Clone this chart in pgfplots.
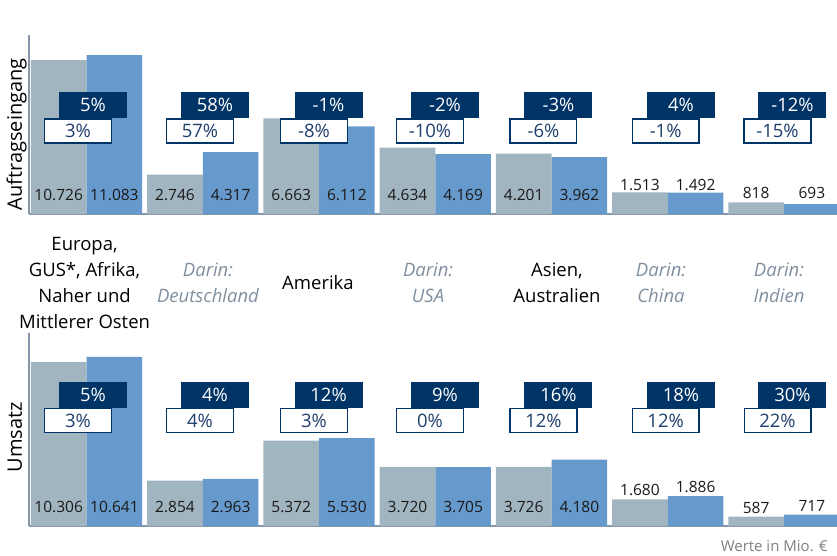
\documentclass[border=0pt]{standalone}
\usepackage{pgfplots}
\pgfplotsset{compat=1.18}
\usepackage{fontspec}
\setmainfont{Open Sans}
\definecolor{bargrey}{HTML}{A1B5C0}
\definecolor{barblue}{HTML}{6699CC}
\definecolor{navy}{HTML}{003366}
\definecolor{boxtext}{HTML}{1F3F6E}
\definecolor{axisgrey}{HTML}{8796A8}
\definecolor{darin}{HTML}{7F8FA0}
\definecolor{numtext}{HTML}{1A1A1A}
\newcommand\darin{\itshape\color{darin}}
\pgfplotsset{
  panel/.style={
    scale only axis, width=808pt,
    xmin=-0.495, xmax=6.456, ymin=0,
    axis x line*=bottom, axis y line*=left,
    axis line style={-, draw=axisgrey, line width=1.5pt},
    ytick=\empty,
    major tick length=0pt,
    clip=false,
    ylabel style={at={(axis description cs:-0.0087,0.5)}, anchor=base, font=\fontsize{20}{24}\selectfont},
  },
  greybar/.style={ybar, bar width=0.479, bar shift=-0.2395, fill=bargrey, draw=none},
  bluebar/.style={ybar, bar width=0.479, bar shift=0.2395, fill=barblue, draw=none},
}
\tikzset{
  num/.style={font=\fontsize{15.5}{18}\selectfont, text=numtext, inner sep=0pt, anchor=center},
  pdark/.style={fill=navy, text=white, minimum width=68pt, minimum height=26pt, inner sep=0pt, font=\fontsize{18.5}{20}\selectfont, anchor=center},
  pwhite/.style={fill=white, draw=navy, line width=1.2pt, text=boxtext, minimum width=66.8pt, minimum height=24pt, inner sep=0pt, font=\fontsize{18.5}{20}\selectfont, anchor=center},
}
\begin{document}
\begin{tikzpicture}
\useasboundingbox (0,0) rectangle (837pt,555pt);
% ---------- Auftragseingang ----------
\begin{axis}[panel, at={(29pt,341pt)}, anchor=south west, height=179pt, ymax=12480,
  ylabel={Auftragseingang},
  ylabel style={at={(axis description cs:-0.0087,0.445)}},
  xtick={-0.017,1.045,1.991,2.938,4.047,4.942,5.957},
  xticklabels={{Europa,\\GUS*, Afrika,\\Naher und\\Mittlerer Osten},
    {{\darin Darin:}\\{\darin Deutschland}},
    {Amerika},
    {{\darin Darin:}\\{\darin USA}},
    {Asien,\\Australien},
    {{\darin Darin:}\\{\darin China}},
    {{\darin Darin:}\\{\darin Indien}}},
  xticklabel style={anchor=center, yshift=-69pt, align=center, font=\fontsize{18.5}{26}\selectfont},
]
\addplot[greybar] coordinates {(0,10726) (1,2746) (2,6663) (3,4634) (4,4201) (5,1513) (6,818)};
\addplot[bluebar] coordinates {(0,11083) (1,4317) (2,6112) (3,4169) (4,3962) (5,1492) (6,693)};
\node[num] at (axis cs:-0.2395,1325) {10.726};
\node[num] at (axis cs:0.2395,1325) {11.083};
\node[num] at (axis cs:0.7605,1325) {2.746};
\node[num] at (axis cs:1.2395,1325) {4.317};
\node[num] at (axis cs:1.7605,1325) {6.663};
\node[num] at (axis cs:2.2395,1325) {6.112};
\node[num] at (axis cs:2.7605,1325) {4.634};
\node[num] at (axis cs:3.2395,1325) {4.169};
\node[num] at (axis cs:3.7605,1325) {4.201};
\node[num] at (axis cs:4.2395,1325) {3.962};
\node[num] at (axis cs:4.7605,2022) {1.513};
\node[num] at (axis cs:5.2395,2022) {1.492};
\node[num] at (axis cs:5.7605,1450) {818};
\node[num] at (axis cs:6.2395,1450) {693};
% percentage boxes
\node[pwhite] at (axis cs:-0.073,5788) {3\%};
\node[pwhite] at (axis cs:0.976,5788) {57\%};
\node[pwhite] at (axis cs:1.957,5788) {-8\%};
\node[pwhite] at (axis cs:2.955,5788) {-10\%};
\node[pwhite] at (axis cs:3.931,5788) {-6\%};
\node[pwhite] at (axis cs:4.982,5788) {-1\%};
\node[pwhite] at (axis cs:5.944,5788) {-15\%};
\node[pdark] at (axis cs:0.056,7601) {5\%};
\node[pdark] at (axis cs:1.105,7601) {58\%};
\node[pdark] at (axis cs:2.082,7601) {-1\%};
\node[pdark] at (axis cs:3.084,7601) {-2\%};
\node[pdark] at (axis cs:4.060,7601) {-3\%};
\node[pdark] at (axis cs:5.114,7601) {4\%};
\node[pdark] at (axis cs:6.073,7601) {-12\%};
\end{axis}
% ---------- Umsatz ----------
\begin{axis}[panel, at={(29pt,29pt)}, anchor=south west, height=193pt, ymax=12140,
  ylabel={Umsatz},
  ylabel style={at={(axis description cs:-0.0087,0.46)}},
  xtick=\empty,
]
\addplot[greybar] coordinates {(0,10306) (1,2854) (2,5372) (3,3720) (4,3726) (5,1680) (6,587)};
\addplot[bluebar] coordinates {(0,10641) (1,2963) (2,5530) (3,3705) (4,4180) (5,1886) (6,717)};
\node[num] at (axis cs:-0.2395,1214) {10.306};
\node[num] at (axis cs:0.2395,1214) {10.641};
\node[num] at (axis cs:0.7605,1214) {2.854};
\node[num] at (axis cs:1.2395,1214) {2.963};
\node[num] at (axis cs:1.7605,1214) {5.372};
\node[num] at (axis cs:2.2395,1214) {5.530};
\node[num] at (axis cs:2.7605,1214) {3.720};
\node[num] at (axis cs:3.2395,1214) {3.705};
\node[num] at (axis cs:3.7605,1214) {3.726};
\node[num] at (axis cs:4.2395,1214) {4.180};
\node[num] at (axis cs:4.7605,2264) {1.680};
\node[num] at (axis cs:5.2395,2472) {1.886};
\node[num] at (axis cs:5.7605,1132) {587};
\node[num] at (axis cs:6.2395,1277) {717};
\node[pwhite] at (axis cs:-0.073,6635) {3\%};
\node[pwhite] at (axis cs:0.976,6635) {4\%};
\node[pwhite] at (axis cs:1.957,6635) {3\%};
\node[pwhite] at (axis cs:2.955,6635) {0\%};
\node[pwhite] at (axis cs:3.931,6635) {12\%};
\node[pwhite] at (axis cs:4.982,6635) {12\%};
\node[pwhite] at (axis cs:5.944,6635) {22\%};
\node[pdark] at (axis cs:0.056,8258) {5\%};
\node[pdark] at (axis cs:1.105,8258) {4\%};
\node[pdark] at (axis cs:2.082,8258) {12\%};
\node[pdark] at (axis cs:3.084,8258) {9\%};
\node[pdark] at (axis cs:4.060,8258) {16\%};
\node[pdark] at (axis cs:5.114,8258) {18\%};
\node[pdark] at (axis cs:6.073,8258) {30\%};
\end{axis}
\node[anchor=base east, font=\fontsize{15}{18}\selectfont, text=gray, inner sep=0pt] at (828pt,4pt) {Werte in Mio. €};
\end{tikzpicture}
\end{document}
